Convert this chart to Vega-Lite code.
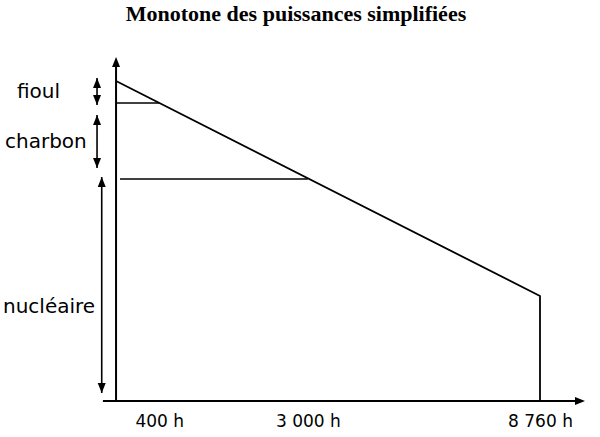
{
  "$schema": "https://vega.github.io/schema/vega-lite/v6.json",
  "width": 600,
  "height": 351,
  "autosize": {"type": "none"},
  "padding": {"left": 0, "right": 0, "top": 50, "bottom": 36},
  "background": "white",
  "title": {
    "text": "Monotone des puissances simplifiées",
    "font": "Liberation Serif",
    "fontSize": 22,
    "fontWeight": "bold",
    "color": "black",
    "anchor": "middle",
    "baseline": "alphabetic",
    "offset": 7,
    "dx": -4
  },
  "config": {"view": {"stroke": null}},
  "datasets": {
    "axes": [
      {"h": 0, "p": 0, "h2": 0, "p2": 340},
      {"h": -80, "p": 0, "h2": 9830, "p2": 0}
    ],
    "paliers": [
      {"h": 0, "p": 298, "h2": 400, "p2": 298},
      {"h": 16, "p": 222, "h2": 3000, "p2": 222}
    ],
    "monotone": [
      {"h": 0, "p": 320, "o": 1},
      {"h": 8760, "p": 105, "o": 2},
      {"h": 8760, "p": 0, "o": 3}
    ],
    "plages": [
      {"h": -132, "p": 323, "h2": -132, "p2": 296},
      {"h": -132, "p": 286, "h2": -132, "p2": 233},
      {"h": -90, "p": 224, "h2": -90, "p2": 8}
    ],
    "fleches": [
      {"h": -132, "p": 317.5, "sens": "haut"},
      {"h": -132, "p": 301.5, "sens": "bas"},
      {"h": -132, "p": 280.5, "sens": "haut"},
      {"h": -132, "p": 238.5, "sens": "bas"},
      {"h": -90, "p": 218.5, "sens": "haut"},
      {"h": -90, "p": 13.5, "sens": "bas"},
      {"h": 0, "p": 338.5, "sens": "haut"},
      {"h": 9880, "p": 0, "sens": "droite"}
    ],
    "sources": [
      {"h": -1228, "p": 309, "nom": "fioul"},
      {"h": -1433, "p": 259, "nom": "charbon"},
      {"h": -1468, "p": 94, "nom": "nucléaire"}
    ]
  },
  "encoding": {
    "x": {
      "field": "h",
      "type": "quantitative",
      "scale": {"type": "pow", "exponent": 0.74, "domain": [-1521, 10476], "nice": false, "zero": false},
      "axis": {
        "values": [400, 3000, 8760],
        "labelExpr": "replace(format(datum.value, ','), ',', ' ') + ' h'",
        "domain": false,
        "ticks": false,
        "grid": false,
        "title": null,
        "labelFont": "DejaVu Sans",
        "labelFontSize": 17,
        "labelColor": "black",
        "labelPadding": 12,
        "labelFlush": false,
        "labelOverlap": false
      }
    },
    "y": {
      "field": "p",
      "type": "quantitative",
      "scale": {"domain": [0, 351], "nice": false, "zero": false},
      "axis": null
    }
  },
  "layer": [
    {
      "data": {"name": "axes"},
      "mark": {"type": "rule", "color": "black", "strokeWidth": 2},
      "encoding": {"x2": {"field": "h2"}, "y2": {"field": "p2"}}
    },
    {
      "data": {"name": "paliers"},
      "mark": {"type": "rule", "color": "black", "strokeWidth": 1.6},
      "encoding": {"x2": {"field": "h2"}, "y2": {"field": "p2"}}
    },
    {
      "data": {"name": "monotone"},
      "mark": {"type": "line", "color": "black", "strokeWidth": 1.8},
      "encoding": {"order": {"field": "o"}}
    },
    {
      "data": {"name": "plages"},
      "mark": {"type": "rule", "color": "black", "strokeWidth": 1.6},
      "encoding": {"x2": {"field": "h2"}, "y2": {"field": "p2"}}
    },
    {
      "data": {"name": "fleches"},
      "mark": {"type": "point", "filled": true, "color": "black", "opacity": 1, "size": 100},
      "encoding": {
        "shape": {
          "field": "sens",
          "type": "nominal",
          "scale": {
            "domain": ["haut", "bas", "droite"],
            "range": ["M-0.8,0.9L0.8,0.9L0,-1.1Z", "M-0.8,-0.9L0.8,-0.9L0,1.1Z", "M-0.9,-0.8L-0.9,0.8L1.1,0Z"]
          },
          "legend": null
        }
      }
    },
    {
      "data": {"name": "sources"},
      "mark": {"type": "text", "align": "left", "baseline": "middle", "font": "DejaVu Sans", "fontSize": 20, "color": "black"},
      "encoding": {"text": {"field": "nom"}}
    }
  ]
}
